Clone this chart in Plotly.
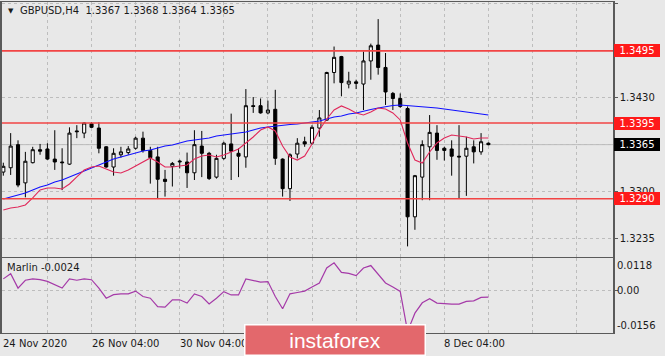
import plotly.graph_objects as go

# ---------------- data ----------------
time_labels = ["24 Nov 2020", "26 Nov 04:00", "30 Nov 04:00", "2 Dec 04:00", "4 Dec 04:00", "8 Dec 04:00"]
label_bars = [0, 12, 24, 36, 48, 60]

opens = [1.3327, 1.3333, 1.3365, 1.3312, 1.3340, 1.3358, 1.3359, 1.3345, 1.3341, 1.3338,
         1.3384, 1.3381, 1.3394, 1.3388, 1.3362, 1.3334, 1.3351, 1.3354, 1.3360, 1.3374,
         1.3357, 1.3348, 1.3317, 1.3335, 1.3341, 1.3341, 1.3326, 1.3363, 1.3353, 1.3320,
         1.3346, 1.3366, 1.3353, 1.3348, 1.3419, 1.3419, 1.3409, 1.3414, 1.3345, 1.3304,
         1.3352, 1.3369, 1.3367, 1.3388, 1.3399, 1.3465, 1.3487, 1.3449, 1.3452, 1.3449,
         1.3481, 1.3503, 1.3472, 1.3436, 1.3429, 1.3415, 1.3265, 1.3320, 1.3362, 1.3381,
         1.3360, 1.3359, 1.3349, 1.3349, 1.3362, 1.3355, 1.3367]
highs = [1.3340, 1.3381, 1.3371, 1.3355, 1.3362, 1.3366, 1.3367, 1.3385, 1.3360, 1.3389,
         1.3392, 1.3396, 1.3396, 1.3396, 1.3363, 1.3360, 1.3362, 1.3363, 1.3376, 1.3383,
         1.3362, 1.3362, 1.3330, 1.3341, 1.3344, 1.3354, 1.3385, 1.3384, 1.3355, 1.3351,
         1.3369, 1.3408, 1.3360, 1.3442, 1.3431, 1.3429, 1.3426, 1.3441, 1.3346, 1.3353,
         1.3374, 1.3376, 1.3392, 1.3413, 1.3466, 1.3501, 1.3488, 1.3466, 1.3455, 1.3494,
         1.3505, 1.3539, 1.3492, 1.3438, 1.3436, 1.3418, 1.3323, 1.3371, 1.3406, 1.3392,
         1.3362, 1.3371, 1.3392, 1.3376, 1.3371, 1.3381, 1.3368]
lows = [1.3322, 1.3323, 1.3306, 1.3292, 1.3339, 1.3351, 1.3344, 1.3330, 1.3302, 1.3337,
        1.3374, 1.3374, 1.3388, 1.3353, 1.3333, 1.3322, 1.3347, 1.3351, 1.3358, 1.3354,
        1.3311, 1.3291, 1.3293, 1.3307, 1.3332, 1.3305, 1.3316, 1.3320, 1.3316, 1.3318,
        1.3344, 1.3316, 1.3320, 1.3333, 1.3409, 1.3408, 1.3407, 1.3337, 1.3293, 1.3287,
        1.3346, 1.3362, 1.3365, 1.3376, 1.3398, 1.3450, 1.3432, 1.3443, 1.3442, 1.3413,
        1.3455, 1.3462, 1.3420, 1.3413, 1.3416, 1.3224, 1.3247, 1.3288, 1.3288, 1.3344,
        1.3343, 1.3322, 1.3291, 1.3294, 1.3339, 1.3351, 1.3364]
closes = [1.3335, 1.3363, 1.3309, 1.3342, 1.3358, 1.3356, 1.3345, 1.3341, 1.3340, 1.3381,
          1.3383, 1.3395, 1.3389, 1.3360, 1.3334, 1.3353, 1.3355, 1.3359, 1.3374, 1.3357,
          1.3347, 1.3317, 1.3314, 1.3339, 1.3342, 1.3326, 1.3365, 1.3353, 1.3318, 1.3346,
          1.3367, 1.3356, 1.3349, 1.3419, 1.3418, 1.3409, 1.3413, 1.3346, 1.3304, 1.3351,
          1.3367, 1.3366, 1.3389, 1.3402, 1.3465, 1.3486, 1.3451, 1.3453, 1.3450, 1.3481,
          1.3502, 1.3472, 1.3438, 1.3429, 1.3418, 1.3265, 1.3322, 1.3365, 1.3382, 1.3357,
          1.3357, 1.3349, 1.3348, 1.3360, 1.3355, 1.3369, 1.3365]

ma_slow = [1.32897, 1.32925, 1.32952, 1.32980, 1.33022, 1.33063, 1.33091, 1.33132, 1.33160, 1.33202,
           1.33243, 1.33285, 1.33327, 1.33368, 1.33410, 1.33451, 1.33479, 1.33507, 1.33534, 1.33562,
           1.33576, 1.33604, 1.33631, 1.33645, 1.33673, 1.33701, 1.33715, 1.33728, 1.33742, 1.33770,
           1.33784, 1.33798, 1.33812, 1.33826, 1.33853, 1.33881, 1.33895, 1.33909, 1.33923, 1.33929,
           1.33936, 1.33950, 1.33957, 1.33978, 1.34006, 1.34033, 1.34047, 1.34075, 1.34089, 1.34117,
           1.34137, 1.34158, 1.34179, 1.34193, 1.34200, 1.34193, 1.34186, 1.34179, 1.34172, 1.34158,
           1.34144, 1.34130, 1.34117, 1.34103, 1.34089, 1.34075, 1.34061]
ma_fast = [1.32744, 1.32772, 1.32786, 1.32814, 1.32911, 1.33022, 1.33049, 1.33049, 1.33036, 1.33105,
           1.33202, 1.33299, 1.33340, 1.33354, 1.33313, 1.33271, 1.33257, 1.33299, 1.33354, 1.33410,
           1.33465, 1.33410, 1.33340, 1.33340, 1.33354, 1.33368, 1.33451, 1.33493, 1.33507, 1.33479,
           1.33507, 1.33548, 1.33590, 1.33673, 1.33756, 1.33853, 1.33895, 1.33839, 1.33631, 1.33479,
           1.33437, 1.33493, 1.33659, 1.33853, 1.34006, 1.34130, 1.34186, 1.34144, 1.34089, 1.34061,
           1.34103, 1.34158, 1.34144, 1.34089, 1.33992, 1.33673, 1.33437, 1.33396, 1.33548, 1.33673,
           1.33742, 1.33784, 1.33770, 1.33756, 1.33728, 1.33742, 1.33742]
marlin = [0.0043, 0.0062, 0.0009, 0.0038, 0.0043, 0.0040, 0.0034, 0.0022, 0.0009, 0.0043,
          0.0038, 0.0043, 0.0040, 0.0009, -0.0028, -0.0015, -0.0012, -0.0012, -0.0002, -0.0022,
          -0.0028, -0.0059, -0.0061, -0.0034, -0.0034, -0.0046, -0.0012, -0.0022, -0.0049, -0.0028,
          -0.0004, -0.0016, -0.0016, 0.0043, 0.0038, 0.0031, 0.0033, -0.0022, -0.0067, -0.0012,
          -0.0007, -0.0002, 0.0013, 0.0028, 0.0083, 0.0102, 0.0067, 0.0063, 0.0055, 0.0083,
          0.0092, 0.0059, 0.0028, 0.0013, -0.0003, -0.0150, -0.0083, -0.0045, -0.0030, -0.0046,
          -0.0049, -0.0050, -0.0050, -0.0040, -0.0038, -0.0025, -0.0024]

levels = [1.3495, 1.3395, 1.3290]
bid_price = 1.3365
price_ticks = [1.3235, 1.3300, 1.3365, 1.3430, 1.3495, 1.3560]
marlin_ticks = [0.0118, 0.0, -0.0156]
title_text = "GBPUSD,H4\u00a0\u00a01.3367 1.3368 1.3364 1.3365"
marlin_name = "Marlin"

# ---------------- style ----------------
BG = "#e8e8e8"
GRID = "#bdbdbd"
BORDER = "#5a5a5a"
TXT = "#1a1a1a"
FONT = "DejaVu Sans"

xs = list(range(len(opens)))

fig = go.Figure()
fig.add_trace(go.Candlestick(
    x=xs, open=opens, high=highs, low=lows, close=closes,
    increasing=dict(line=dict(color="black", width=1), fillcolor="white"),
    decreasing=dict(line=dict(color="black", width=1), fillcolor="black"),
    whiskerwidth=0, xaxis="x", yaxis="y", hoverinfo="skip", showlegend=False))
fig.add_trace(go.Scatter(x=xs, y=ma_slow, mode="lines", line=dict(color="#1010ff", width=1.1),
                         xaxis="x", yaxis="y", hoverinfo="skip", showlegend=False))
fig.add_trace(go.Scatter(x=xs, y=ma_fast, mode="lines", line=dict(color="#e0285a", width=1.1),
                         xaxis="x", yaxis="y", hoverinfo="skip", showlegend=False))
fig.add_trace(go.Scatter(x=xs, y=marlin, mode="lines", line=dict(color="#a53aa8", width=1.2),
                         xaxis="x2", yaxis="y2", hoverinfo="skip", showlegend=False))

shapes = []
shapes.append(dict(type="line", xref="paper", x0=0, x1=1, yref="y", y0=bid_price, y1=bid_price,
                   line=dict(color="#bcbcbc", width=1), layer="below"))
for lv in levels:
    shapes.append(dict(type="line", xref="paper", x0=0, x1=1, yref="y", y0=lv, y1=lv,
                       line=dict(color="#f24444", width=1.6), layer="above"))

PW = 611.0  # plot area width in px
PH = 331.0  # plot area height in px
Y2_TOP = 0.2251

ann = []
# header
ann.append(dict(xref="paper", yref="paper", x=0, y=1, xanchor="left", yanchor="top",
                xshift=4, yshift=-3, text="\u25bc", showarrow=False,
                font=dict(family=FONT, size=7, color=TXT)))
ann.append(dict(xref="paper", yref="paper", x=0, y=1, xanchor="left", yanchor="top",
                xshift=16, yshift=-1, text=title_text, showarrow=False,
                font=dict(family=FONT, size=10, color=TXT)))
ann.append(dict(xref="paper", yref="paper", x=0, y=Y2_TOP, xanchor="left", yanchor="top",
                xshift=3, yshift=-2, text=f"{marlin_name} {marlin[-1]:.4f}", showarrow=False,
                font=dict(family=FONT, size=10, color=TXT)))
# indicator scale labels
for v, anc in zip(marlin_ticks, ["top", "middle", "bottom"]):
    txt = "0.00" if v == 0 else f"{v:.4f}"
    ann.append(dict(xref="paper", yref="y2", x=1, y=v, xanchor="left", yanchor=anc,
                    xshift=2, text=txt, showarrow=False,
                    font=dict(family=FONT, size=10, color=TXT)))
# level price boxes
for lv in levels:
    ann.append(dict(xref="paper", yref="y", x=1, y=lv, xanchor="left", yanchor="middle",
                    xshift=1, text=f"{lv:.4f}", showarrow=False, bgcolor="#ff1a1a",
                    borderpad=1, borderwidth=0, width=44, height=11, align="center",
                    font=dict(family=FONT, size=10, color="white")))
ann.append(dict(xref="paper", yref="y", x=1, y=bid_price, xanchor="left", yanchor="middle",
                xshift=1, text=f"{bid_price:.4f}", showarrow=False, bgcolor="black",
                borderpad=1, borderwidth=0, width=44, height=11, align="center",
                font=dict(family=FONT, size=10, color="white")))
# time labels
for b, t in zip(label_bars, time_labels):
    ann.append(dict(xref="x2", yref="paper", x=b, y=0, xanchor="left", yanchor="top",
                    xshift=-2, yshift=-3, text=t, showarrow=False,
                    font=dict(family=FONT, size=10, color=TXT)))
# watermark
ann.append(dict(xref="paper", yref="paper", x=(244 - 2) / PW, y=-8.0 / PH, xanchor="left", yanchor="top",
                yshift=17, text="instaforex", showarrow=False, bgcolor="#e3686c",
                bordercolor="white", borderwidth=1.5, borderpad=3, width=173, align="center",
                font=dict(family="Liberation Sans", size=21, color="white")))

grid_x = list(range(6, 84, 6))
xcommon = dict(range=[-0.18, 82.95], tickvals=grid_x, showticklabels=False, ticks="",
               showgrid=True, gridcolor=GRID, griddash="3px,3px", gridwidth=1,
               showline=True, mirror=True, linecolor=BORDER, linewidth=1,
               zeroline=False, fixedrange=True)

fig.update_layout(
    width=665, height=356, autosize=False,
    margin=dict(l=2, r=52, t=2, b=23, pad=0, autoexpand=False),
    paper_bgcolor=BG, plot_bgcolor=BG,
    font=dict(family=FONT, size=10, color=TXT),
    showlegend=False, hovermode=False, boxgap=0.4,
    xaxis=dict(domain=[0, 1], anchor="y", rangeslider=dict(visible=False), **xcommon),
    xaxis2=dict(domain=[0, 1], anchor="y2", **xcommon),
    yaxis=dict(domain=[0.2281, 1], range=[1.32086, 1.35627], side="right", anchor="x",
               tickvals=price_ticks, tickformat=".4f", ticks="outside", ticklen=3,
               tickcolor=BORDER, tickfont=dict(family=FONT, size=10, color=TXT),
               showgrid=True, gridcolor=GRID, griddash="3px,3px",
               showline=True, mirror=True, linecolor=BORDER, linewidth=1.5,
               zeroline=False, fixedrange=True),
    yaxis2=dict(domain=[0, Y2_TOP], range=[-0.0156, 0.0118], side="right", anchor="x2",
                tickvals=[0.0], showticklabels=False, ticks="outside", ticklen=3, tickcolor=BORDER,
                showgrid=True, gridcolor=GRID, griddash="3px,3px",
                showline=True, mirror=True, linecolor=BORDER, linewidth=1.5,
                zeroline=False, fixedrange=True),
    shapes=shapes, annotations=ann,
)

fig.write_html("out.html", config={"displayModeBar": False},
               post_script="document.body.style.margin='0';document.body.style.background='#e8e8e8';")
